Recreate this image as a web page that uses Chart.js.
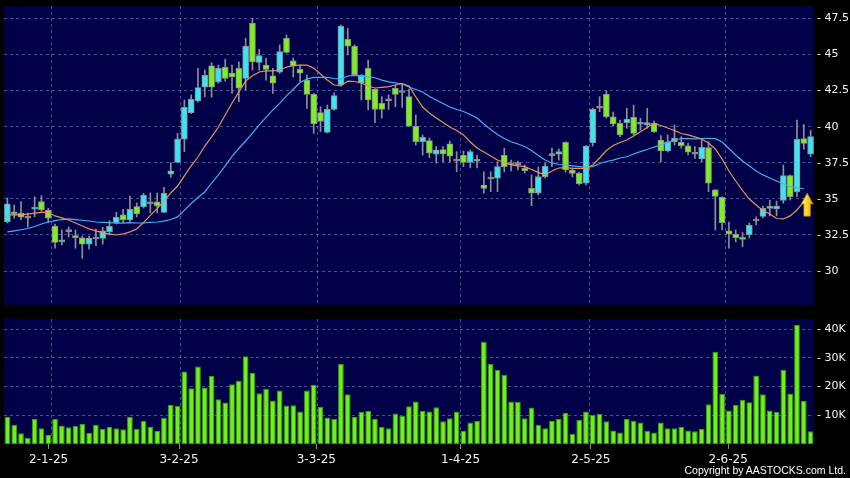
<!DOCTYPE html>
<html>
<head>
<meta charset="utf-8">
<script src="https://cdn.jsdelivr.net/npm/chart.js@4.4.1/dist/chart.umd.min.js"></script>
<style>
html, body { margin: 0; padding: 0; background: #000; }
#wrap { position: relative; width: 850px; height: 478px; overflow: hidden; background: #000; }
#price { position: absolute; left: 0; top: 0; }
#volume { position: absolute; left: 0; top: 312px; }
#copy { position: absolute; right: 4px; top: 464px; color: #fff; font: 10.5px "Liberation Sans", sans-serif; white-space: nowrap; }
</style>
</head>
<body>
<div id="wrap">
  <canvas id="price" width="850" height="306"></canvas>
  <canvas id="volume" width="850" height="166"></canvas>
  <div id="copy">Copyright by AASTOCKS.com Ltd.</div>
</div>
<script>
(function() {
'use strict';

// --- data ---
const dates = [
  '20-12-24','23-12-24','24-12-24','27-12-24','30-12-24','31-12-24',
  '2-1-25','3-1-25','6-1-25','7-1-25','8-1-25','9-1-25','10-1-25','13-1-25','14-1-25','15-1-25',
  '16-1-25','17-1-25','20-1-25','21-1-25','22-1-25','23-1-25','24-1-25','27-1-25','28-1-25',
  '3-2-25','4-2-25','5-2-25','6-2-25','7-2-25','10-2-25','11-2-25','12-2-25','13-2-25','14-2-25',
  '17-2-25','18-2-25','19-2-25','20-2-25','21-2-25','24-2-25','25-2-25','26-2-25','27-2-25','28-2-25',
  '3-3-25','4-3-25','5-3-25','6-3-25','7-3-25','10-3-25','11-3-25','12-3-25','13-3-25','14-3-25',
  '17-3-25','18-3-25','19-3-25','20-3-25','21-3-25','24-3-25','25-3-25','26-3-25','27-3-25','28-3-25','31-3-25',
  '1-4-25','2-4-25','3-4-25','7-4-25','8-4-25','9-4-25','10-4-25','11-4-25','14-4-25','15-4-25',
  '16-4-25','17-4-25','22-4-25','23-4-25','24-4-25','25-4-25','28-4-25','29-4-25','30-4-25',
  '2-5-25','6-5-25','7-5-25','8-5-25','9-5-25','12-5-25','13-5-25','14-5-25','15-5-25','16-5-25',
  '19-5-25','20-5-25','21-5-25','22-5-25','23-5-25','26-5-25','27-5-25','28-5-25','29-5-25','30-5-25',
  '2-6-25','3-6-25','4-6-25','5-6-25','6-6-25','9-6-25','10-6-25','11-6-25','12-6-25','13-6-25',
  '16-6-25','17-6-25','18-6-25','19-6-25'
];

const opens = [
  33.42,34.11,34.00,33.66,34.28,34.81,34.23,33.12,32.02,32.73,
  32.45,32.31,31.86,32.22,32.27,32.73,33.35,33.89,33.54,34.46,
  34.46,34.65,34.79,34.07,36.72,37.53,39.13,40.98,41.78,42.73,
  44.22,43.10,44.11,43.72,44.04,43.35,47.16,44.46,44.27,43.53,
  43.77,46.12,44.57,43.97,43.23,42.24,40.97,39.61,41.20,42.89,
  46.05,45.57,43.01,44.04,42.59,41.62,41.80,42.66,42.37,42.09,
  40.03,38.96,39.04,38.09,38.41,38.82,37.62,38.02,37.53,37.62,
  35.96,36.38,36.43,38.02,37.38,37.38,37.12,35.73,35.39,36.54,
  38.00,38.09,38.91,37.00,36.77,36.08,38.89,41.29,42.24,40.69,
  40.24,40.28,40.65,40.17,40.12,40.24,39.08,38.32,39.20,38.92,
  38.68,38.09,37.76,38.56,35.62,35.10,32.78,32.55,32.33,32.50,
  33.47,33.78,34.46,34.30,34.89,36.61,35.48,39.18,38.10
];
const highs = [
  35.06,34.58,34.81,34.02,35.15,35.22,34.35,33.26,32.85,33.05,
  32.85,32.43,32.43,32.91,33.03,33.49,34.07,34.28,35.20,34.72,
  35.39,35.41,35.41,35.80,37.51,39.54,41.85,42.20,44.04,43.93,
  44.43,44.27,44.67,44.27,44.50,46.12,47.51,45.36,44.74,44.04,
  45.66,46.35,44.76,44.27,43.58,42.30,41.38,41.50,42.35,47.04,
  46.81,45.66,43.60,44.62,42.62,42.08,42.20,42.89,43.00,42.61,
  40.81,39.43,39.22,38.62,38.62,39.00,38.27,38.32,38.39,38.04,
  36.88,36.88,37.58,38.50,37.69,37.62,37.35,36.66,37.21,37.48,
  38.52,38.46,38.95,37.14,36.86,38.70,41.29,42.08,42.47,41.02,
  40.46,41.27,41.50,40.58,41.27,40.39,39.38,39.43,40.12,39.31,
  38.85,38.62,39.08,38.96,35.65,35.15,33.40,32.85,32.67,33.33,
  33.75,34.51,34.92,34.85,37.35,36.66,40.46,40.15,39.74
];
const lows = [
  33.33,33.66,33.54,33.05,33.77,34.14,33.35,31.58,31.81,32.36,
  31.58,30.89,31.53,31.76,31.86,32.50,33.26,33.35,33.42,33.75,
  34.37,34.02,34.02,34.02,36.50,37.50,38.27,40.90,41.70,42.08,
  42.04,43.00,43.16,42.31,41.73,42.54,43.93,43.91,43.23,42.31,
  43.70,45.10,43.44,43.12,41.27,39.54,39.65,39.56,41.15,42.80,
  44.97,43.55,41.85,41.16,40.28,40.60,41.20,41.38,41.34,40.00,
  38.73,38.04,37.85,37.47,37.56,37.56,36.88,37.23,37.14,37.14,
  35.39,35.50,35.50,36.88,36.93,37.00,36.79,34.53,35.27,36.45,
  37.23,37.69,36.86,36.52,35.96,35.96,38.66,41.04,40.60,40.05,
  39.31,39.89,39.43,39.77,39.89,39.60,37.58,38.25,38.73,38.52,
  38.04,37.81,37.58,35.50,32.85,32.85,31.58,32.02,31.69,32.29,
  33.19,33.68,33.82,33.82,34.70,34.92,35.15,38.44,37.92
];
const closes = [
  34.65,33.95,33.73,33.68,34.42,34.23,33.66,31.99,32.15,32.75,
  32.31,31.86,32.27,32.24,32.78,33.10,33.73,33.54,34.28,33.95,
  35.27,34.67,34.51,35.39,36.95,39.15,41.34,41.90,42.71,43.55,
  42.73,44.04,43.35,43.44,42.66,45.59,44.48,44.93,43.96,43.01,
  45.21,45.15,44.20,43.70,42.24,40.19,40.36,41.20,42.15,46.97,
  45.57,43.61,43.58,41.85,41.20,41.20,41.82,42.24,42.39,40.03,
  38.96,39.27,38.16,38.39,38.11,37.95,37.64,37.53,38.28,37.76,
  35.73,36.40,37.24,37.23,37.40,37.37,36.95,35.39,36.54,37.28,
  38.02,38.27,37.00,36.77,36.05,38.66,41.20,41.30,40.69,40.19,
  39.43,40.53,39.54,40.30,40.28,39.65,38.32,38.96,38.96,38.68,
  38.23,38.10,38.57,36.08,35.17,33.35,32.57,32.31,32.20,33.16,
  33.49,34.34,34.34,34.51,36.61,35.15,39.13,38.85,39.32
];

// orange (short) and light blue (long) moving average lines
const maShort = [
  33.89,33.89,33.89,33.95,34.01,34.06,34.06,33.82,33.68,33.54,
  33.33,33.12,32.92,32.78,32.66,32.57,32.50,32.57,32.71,32.92,
  33.36,33.86,34.33,34.85,35.41,35.89,36.59,37.28,37.90,38.66,
  39.29,39.98,40.81,41.64,42.40,43.16,43.53,43.79,43.86,43.86,
  43.93,44.13,44.24,44.27,44.27,44.06,43.65,43.23,42.89,42.82,
  43.16,43.13,43.03,42.82,42.68,42.73,42.78,42.89,42.99,42.82,
  42.06,41.36,40.95,40.60,40.29,39.98,39.74,39.43,38.94,38.52,
  38.25,37.97,37.69,37.52,37.35,37.28,37.23,37.04,36.84,36.66,
  36.93,37.14,37.16,37.12,37.12,37.12,37.35,37.83,38.35,38.70,
  38.91,39.08,39.36,39.65,39.94,40.22,40.08,39.91,39.74,39.53,
  39.43,39.29,39.15,38.87,38.46,37.76,36.93,36.24,35.58,34.99,
  34.58,34.20,33.95,33.64,33.61,33.82,34.23,34.79,null
];
const maLong = [
  32.71,32.78,32.86,32.95,33.09,33.26,33.40,33.50,33.57,33.61,
  33.56,33.52,33.47,33.40,33.37,33.35,33.32,33.32,33.35,33.33,
  33.33,33.37,33.40,33.46,33.57,33.75,34.20,34.68,35.10,35.48,
  36.10,36.66,37.28,37.94,38.49,39.01,39.56,40.12,40.64,41.16,
  41.61,42.13,42.59,43.06,43.30,43.42,43.42,43.42,43.34,43.30,
  43.51,43.56,43.50,43.46,43.39,43.23,43.10,43.03,42.96,42.75,
  42.58,42.40,42.09,41.85,41.61,41.36,41.19,41.05,40.84,40.60,
  40.19,39.81,39.46,39.18,38.96,38.80,38.63,38.35,38.01,37.69,
  37.49,37.38,37.35,37.29,37.24,37.19,37.24,37.45,37.59,37.69,
  37.83,37.92,38.11,38.27,38.42,38.59,38.73,38.91,39.08,39.18,
  39.18,39.15,39.18,39.20,39.17,38.94,38.49,38.04,37.62,37.28,
  36.93,36.66,36.45,36.24,36.03,35.86,35.77,35.70,null
];

const volumes = [
  9500,6600,3700,2200,8700,5500,3100,8700,6400,5800,
  6300,7000,3800,6700,5200,5900,5500,5100,9500,5200,
  8100,6000,4500,9100,13600,13300,25200,19400,27000,19700,
  23700,15600,14400,20800,22000,30500,24700,17700,19200,15100,
  18600,13400,13500,11300,18600,20500,12900,9200,8700,27800,
  17300,9400,11200,11500,8700,6000,5500,10600,9800,13100,
  14800,11500,11300,12800,7900,9000,11300,4600,7500,8100,
  35600,27900,25800,24000,14800,14700,9000,12700,6700,5500,
  8100,8800,10800,3500,8400,11300,10100,10500,7900,4700,
  4000,8700,8100,7500,4600,4000,7500,5500,5500,5900,
  4700,4400,5200,13800,32100,17500,11700,13600,15400,14500,
  23800,17300,11700,11200,25800,17600,41400,15000,4400
];

const tickDates = ['2-1-25', '3-2-25', '3-3-25', '1-4-25', '2-5-25', '2-6-25'];
const priceTicks = [30, 32.5, 35, 37.5, 40, 42.5, 45, 47.5];
const volumeTicks = [10000, 20000, 30000, 40000];
const arrowMark = { at: 117.5, tip: 35.4, tail: 33.8 };

// --- styles ---
const NAVY = '#000048';
const GRID = 'rgba(125,125,190,0.6)';
const LABEL = '#f4f4f4';
const CYAN = '#3ae4f0';
const GREEN = '#7cf01e';
const GRAY = '#909090';
const ORANGE = '#e8935a';
const BLUE = '#45aef5';
const VOL = '#6cf218';
const VOL_EDGE = '#3d9c0e';

const tickIdx = tickDates.map(d => dates.indexOf(d));

const bodyColor = opens.map((o, i) => {
  const diff = closes[i] - o;
  if (Math.abs(diff) < 0.05) return GRAY;
  return diff > 0 ? CYAN : GREEN;
});

const plotBg = {
  id: 'plotBg',
  beforeDraw(chart) {
    const a = chart.chartArea, ctx = chart.ctx;
    ctx.save();
    ctx.fillStyle = NAVY;
    ctx.fillRect(a.left, a.top, a.right - a.left, a.bottom - a.top);
    ctx.restore();
  }
};

// vertical grid line sits on the right edge of each month's first bar
function monthGrid(ctx) {
  return tickIdx.includes(ctx.index - 1) ? GRID : 'transparent';
}

const arrowPlugin = {
  id: 'arrow',
  afterDatasetsDraw(chart) {
    const xs = chart.scales.x, ys = chart.scales.y, ctx = chart.ctx;
    const cx = (xs.getPixelForValue(Math.floor(arrowMark.at)) + xs.getPixelForValue(Math.ceil(arrowMark.at))) / 2;
    const top = ys.getPixelForValue(arrowMark.tip);
    const bot = ys.getPixelForValue(arrowMark.tail);
    const head = top + (bot - top) * 0.47;
    ctx.save();
    const g = ctx.createLinearGradient(cx - 6, 0, cx + 6, 0);
    g.addColorStop(0, '#fff6b0');
    g.addColorStop(0.5, '#ffd21e');
    g.addColorStop(1, '#d99a00');
    ctx.beginPath();
    ctx.moveTo(cx, top);
    ctx.lineTo(cx + 6, head);
    ctx.lineTo(cx + 3.3, head);
    ctx.lineTo(cx + 3.3, bot);
    ctx.lineTo(cx - 3.3, bot);
    ctx.lineTo(cx - 3.3, head);
    ctx.lineTo(cx - 6, head);
    ctx.closePath();
    ctx.fillStyle = g;
    ctx.fill();
    ctx.strokeStyle = '#a87400';
    ctx.lineWidth = 0.8;
    ctx.stroke();
    ctx.restore();
  }
};

Chart.defaults.font.family = 'DejaVu Sans';
Chart.defaults.animation = false;

function hiddenX() {
  return {
    offset: true,
    grid: { offset: true, color: monthGrid, drawTicks: false },
    border: { display: false, dash: [3, 3] },
    ticks: { display: false, autoSkip: false },
    afterFit: s => { s.height = 0; s.paddingLeft = 0; s.paddingRight = 0; }
  };
}

function rightAxis(s) {
  s.width = 36;
  s.paddingTop = 0;
  s.paddingBottom = 0;
}

// --- price panel ---
new Chart(document.getElementById('price'), {
  type: 'bar',
  data: {
    labels: dates,
    datasets: [
      { type: 'line', data: maShort, borderColor: ORANGE, borderWidth: 1.2, pointRadius: 0, tension: 0, order: 0 },
      { type: 'line', data: maLong, borderColor: BLUE, borderWidth: 1.2, pointRadius: 0, tension: 0, order: 0 },
      {
        data: opens.map((o, i) => [o, closes[i]]),
        backgroundColor: bodyColor,
        borderColor: GRAY,
        borderWidth: 1,
        borderSkipped: false,
        barThickness: 6,
        minBarLength: 2,
        grouped: false,
        order: 1
      },
      {
        data: lows.map((l, i) => [l, highs[i]]),
        backgroundColor: GRAY,
        barThickness: 1,
        grouped: false,
        order: 2
      }
    ]
  },
  options: {
    responsive: false,
    layout: { padding: { left: 4, top: 6, right: 0, bottom: 1 } },
    plugins: { legend: { display: false }, tooltip: { enabled: false } },
    scales: {
      x: hiddenX(),
      y: {
        position: 'right',
        min: 27.65,
        max: 48.36,
        afterBuildTicks: s => { s.ticks = priceTicks.map(v => ({ value: v })); },
        grid: { color: GRID, drawTicks: false },
        border: { display: false, dash: [3, 3] },
        ticks: { color: LABEL, font: { size: 11 }, padding: 3, callback: v => '- ' + v },
        afterFit: rightAxis
      }
    }
  },
  plugins: [plotBg, arrowPlugin]
});

// --- volume panel ---
new Chart(document.getElementById('volume'), {
  type: 'bar',
  data: {
    labels: dates,
    datasets: [{
      data: volumes,
      backgroundColor: VOL,
      borderColor: VOL_EDGE,
      borderWidth: 1,
      borderSkipped: false,
      barPercentage: 0.84,
      categoryPercentage: 1
    }]
  },
  options: {
    responsive: false,
    layout: { padding: { left: 4, top: 7, right: 0, bottom: 0 } },
    plugins: { legend: { display: false }, tooltip: { enabled: false } },
    scales: {
      x: hiddenX(),
      x2: {
        type: 'linear',
        position: 'bottom',
        offset: false,
        min: -0.5,
        max: 117.5,
        afterBuildTicks: s => { s.ticks = tickIdx.map(v => ({ value: v })); },
        grid: { offset: false, drawOnChartArea: false, color: GRAY, tickLength: 5 },
        border: { display: false },
        ticks: { color: LABEL, font: { size: 12 }, padding: 4, maxRotation: 0, autoSkip: false, callback: v => dates[v] },
        afterFit: s => { s.height = 34; s.paddingLeft = 0; s.paddingRight = 0; }
      },
      y: {
        position: 'right',
        min: 0,
        max: 43500,
        afterBuildTicks: s => { s.ticks = volumeTicks.map(v => ({ value: v })); },
        grid: { color: GRID, drawTicks: false },
        border: { display: false, dash: [3, 3] },
        ticks: { color: LABEL, font: { size: 11 }, padding: 3, callback: v => '- ' + (v / 1000) + 'K' },
        afterFit: rightAxis
      }
    }
  },
  plugins: [plotBg]
});

})();
</script>
</body>
</html>
